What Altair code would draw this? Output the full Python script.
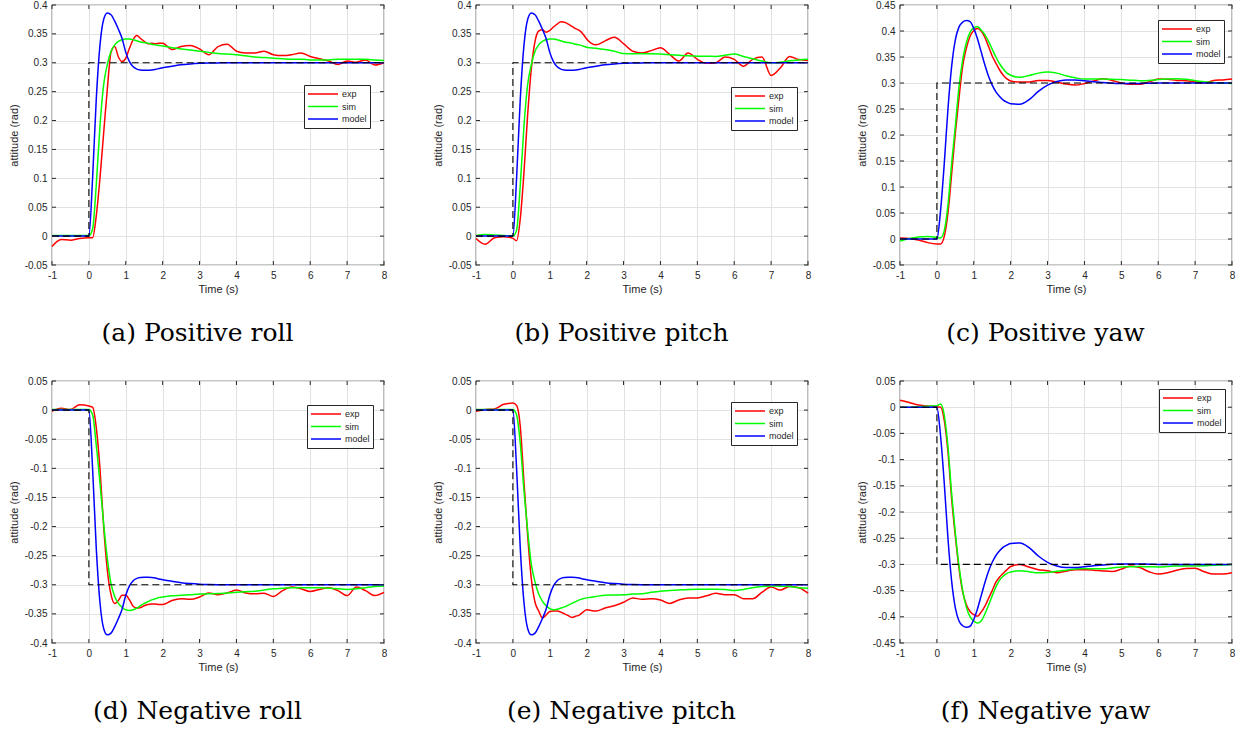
import altair as alt
import pandas as pd

# ---------------- data ----------------
T = [-1, -0.75, -0.5, -0.25, 0,
     0.1, 0.2, 0.3, 0.4, 0.5, 0.6, 0.7, 0.8, 0.9, 1.0,
     1.1, 1.2, 1.3, 1.4, 1.5, 1.6, 1.7, 1.8, 1.9, 2.0,
     2.25, 2.5, 2.75, 3.0, 3.25, 3.5, 3.75, 4.0, 4.25, 4.5, 4.75, 5.0,
     5.25, 5.5, 5.75, 6.0, 6.25, 6.5, 6.75, 7.0, 7.25, 7.5, 7.75, 8.0]

# (a) positive roll
exp_a = [-0.018, -0.006, -0.007, -0.004, -0.003,
         -0.003, 0.035, 0.1, 0.178, 0.255, 0.318, 0.328, 0.31, 0.302, 0.308,
         0.325, 0.34, 0.347, 0.342, 0.337, 0.333, 0.334, 0.333, 0.334, 0.334,
         0.323, 0.328, 0.33, 0.324, 0.314, 0.328, 0.332, 0.32, 0.317, 0.317, 0.32, 0.314,
         0.3125, 0.314, 0.317, 0.311, 0.307, 0.303, 0.297, 0.303, 0.301, 0.305, 0.296, 0.3]
sim_a = [0.001, 0.001, 0.001, 0.001, 0.001,
         0.012, 0.088, 0.19, 0.262, 0.297, 0.32, 0.331, 0.337, 0.34, 0.341,
         0.341, 0.34, 0.338, 0.336, 0.335, 0.334, 0.332, 0.331, 0.33, 0.329,
         0.326, 0.324, 0.322, 0.32, 0.318, 0.316, 0.315, 0.314, 0.312, 0.31, 0.309, 0.308,
         0.307, 0.306, 0.306, 0.305, 0.305, 0.305, 0.306, 0.306, 0.306, 0.306, 0.305, 0.304]
model_pos_rp = [0, 0, 0, 0, 0,
                0.1, 0.237, 0.33, 0.375, 0.386, 0.383, 0.372, 0.358, 0.342, 0.318,
                0.302, 0.293, 0.289, 0.2875, 0.287, 0.287, 0.2875, 0.2885, 0.29, 0.2915,
                0.294, 0.2965, 0.298, 0.299, 0.2995, 0.2998, 0.3, 0.3, 0.3, 0.3, 0.3, 0.3,
                0.3, 0.3, 0.3, 0.3, 0.3, 0.3, 0.3, 0.3, 0.3, 0.3, 0.3, 0.3]

# (b) positive pitch
exp_b = [-0.004, -0.014, -0.003, -0.001, -0.004,
         -0.008, 0.03, 0.11, 0.21, 0.29, 0.337, 0.355, 0.357, 0.353, 0.356,
         0.362, 0.367, 0.371, 0.37, 0.367, 0.363, 0.359, 0.356, 0.35, 0.341,
         0.331, 0.338, 0.344, 0.333, 0.32, 0.317, 0.321, 0.326, 0.3145, 0.303, 0.317, 0.306,
         0.299, 0.3, 0.31, 0.306, 0.294, 0.306, 0.31, 0.278, 0.291, 0.311, 0.3055, 0.304]
sim_b = [0.001, 0.003, 0.002, 0.001, 0.0,
         0.01, 0.088, 0.19, 0.262, 0.297, 0.32, 0.331, 0.337, 0.34, 0.341,
         0.341, 0.34, 0.338, 0.336, 0.335, 0.334, 0.332, 0.331, 0.329, 0.327,
         0.325, 0.323, 0.32, 0.316, 0.3155, 0.3155, 0.3155, 0.315, 0.314, 0.313, 0.312, 0.3115,
         0.3115, 0.311, 0.313, 0.315, 0.311, 0.307, 0.303, 0.3, 0.301, 0.3035, 0.305, 0.306]

# (c) positive yaw
exp_c = [0.002, 0.001, -0.002, -0.007, -0.0095,
         -0.0095, 0.005, 0.05, 0.125, 0.204, 0.272, 0.333, 0.367, 0.39, 0.401,
         0.405, 0.4, 0.388, 0.37, 0.352, 0.338, 0.325, 0.315, 0.308, 0.304,
         0.302, 0.302, 0.305, 0.305, 0.302, 0.298, 0.296, 0.299, 0.304, 0.308, 0.305, 0.3,
         0.2975, 0.2975, 0.302, 0.3075, 0.307, 0.305, 0.3045, 0.3025, 0.3, 0.305, 0.306, 0.3075]
sim_c = [-0.004, 0.001, 0.004, 0.005, 0.003,
         0.002, 0.016, 0.065, 0.145, 0.217, 0.293, 0.345, 0.378, 0.398, 0.406,
         0.408, 0.402, 0.393, 0.38, 0.365, 0.35, 0.337, 0.327, 0.319, 0.315,
         0.311, 0.3145, 0.319, 0.321, 0.319, 0.314, 0.31, 0.3075, 0.3075, 0.3075, 0.307, 0.3065,
         0.3055, 0.3045, 0.305, 0.3065, 0.3075, 0.308, 0.307, 0.3045, 0.3025, 0.301, 0.3, 0.299]
model_pos_yaw = [0, 0, 0, 0, 0,
                 0.055, 0.145, 0.25, 0.332, 0.383, 0.408, 0.417, 0.42, 0.418, 0.405,
                 0.385, 0.36, 0.335, 0.313, 0.296, 0.283, 0.274, 0.267, 0.263, 0.26,
                 0.259, 0.268, 0.284, 0.296, 0.303, 0.306, 0.306, 0.3045, 0.3025, 0.301, 0.2995, 0.299,
                 0.299, 0.299, 0.2995, 0.3, 0.3, 0.3, 0.3, 0.3, 0.3, 0.3, 0.3, 0.3]

# (d) negative roll
exp_d = [-0.002, 0.003, 0.001, 0.009, 0.007,
         0.005, -0.03, -0.1, -0.2, -0.275, -0.317, -0.332, -0.327, -0.318, -0.318,
         -0.326, -0.337, -0.34, -0.339, -0.336, -0.334, -0.333, -0.333, -0.334, -0.334,
         -0.327, -0.324, -0.325, -0.321, -0.314, -0.317, -0.314, -0.309, -0.314, -0.3155, -0.3145, -0.32,
         -0.31, -0.304, -0.307, -0.3115, -0.308, -0.305, -0.31, -0.3185, -0.304, -0.31, -0.3185, -0.313]
sim_d = [0.001, 0.001, 0.001, 0.001, 0.001,
         -0.008, -0.06, -0.125, -0.195, -0.255, -0.298, -0.32, -0.332, -0.339, -0.343,
         -0.344, -0.343, -0.34, -0.336, -0.332, -0.329, -0.326, -0.324, -0.322, -0.321,
         -0.319, -0.318, -0.317, -0.316, -0.3155, -0.315, -0.314, -0.313, -0.312, -0.311, -0.309, -0.307,
         -0.306, -0.305, -0.305, -0.305, -0.305, -0.306, -0.307, -0.308, -0.307, -0.305, -0.303, -0.302]
model_neg_rp = [0, 0, 0, 0, 0,
                -0.1, -0.237, -0.33, -0.375, -0.386, -0.383, -0.372, -0.358, -0.342, -0.318,
                -0.302, -0.293, -0.289, -0.2875, -0.287, -0.287, -0.2875, -0.2885, -0.29, -0.2915,
                -0.294, -0.2965, -0.298, -0.299, -0.2995, -0.2998, -0.3, -0.3, -0.3, -0.3, -0.3, -0.3,
                -0.3, -0.3, -0.3, -0.3, -0.3, -0.3, -0.3, -0.3, -0.3, -0.3, -0.3, -0.3]

# (e) negative pitch
exp_e = [-0.002, 0.001, 0.002, 0.01, 0.012,
         0.008, -0.028, -0.123, -0.215, -0.29, -0.33, -0.345, -0.357, -0.352, -0.346,
         -0.345, -0.345, -0.347, -0.35, -0.353, -0.356, -0.354, -0.352, -0.347, -0.343,
         -0.345, -0.34, -0.336, -0.33, -0.3225, -0.325, -0.324, -0.326, -0.332, -0.326, -0.3225, -0.3225,
         -0.319, -0.3145, -0.317, -0.317, -0.324, -0.324, -0.313, -0.304, -0.309, -0.303, -0.305, -0.3145]
sim_e = [0.001, 0.001, 0.001, 0.001, 0.001,
         -0.008, -0.057, -0.138, -0.207, -0.265, -0.295, -0.316, -0.328, -0.336, -0.341,
         -0.343, -0.342, -0.34, -0.338, -0.335, -0.332, -0.329, -0.326, -0.324, -0.3225,
         -0.32, -0.318, -0.3175, -0.317, -0.316, -0.3155, -0.313, -0.311, -0.31, -0.309, -0.308, -0.3075,
         -0.3075, -0.3075, -0.308, -0.31, -0.308, -0.305, -0.303, -0.302, -0.3025, -0.303, -0.305, -0.306]

# (f) negative yaw
exp_f = [0.0134, 0.009, 0.004, 0.0025, 0.0005,
         0.0, -0.025, -0.085, -0.175, -0.246, -0.308, -0.353, -0.377, -0.39, -0.396,
         -0.399, -0.391, -0.38, -0.365, -0.35, -0.334, -0.324, -0.317, -0.31, -0.304,
         -0.3, -0.305, -0.31, -0.312, -0.316, -0.313, -0.31, -0.31, -0.311, -0.3125, -0.3135, -0.309,
         -0.303, -0.306, -0.314, -0.3185, -0.316, -0.311, -0.308, -0.3075, -0.314, -0.3185, -0.3185, -0.316]
sim_f = [0.0, 0.0, 0.001, 0.002, 0.003,
         0.006, -0.015, -0.075, -0.165, -0.24, -0.303, -0.35, -0.382, -0.4, -0.408,
         -0.412, -0.408, -0.395, -0.378, -0.36, -0.343, -0.33, -0.322, -0.317, -0.3145,
         -0.312, -0.314, -0.316, -0.3155, -0.313, -0.311, -0.309, -0.308, -0.3085, -0.3085, -0.307, -0.305,
         -0.3045, -0.304, -0.3045, -0.305, -0.304, -0.303, -0.303, -0.303, -0.3025, -0.3015, -0.301, -0.3]
model_neg_yaw = [0, 0, 0, 0, 0,
                 -0.055, -0.145, -0.25, -0.332, -0.383, -0.408, -0.417, -0.42, -0.418, -0.405,
                 -0.385, -0.36, -0.335, -0.313, -0.296, -0.283, -0.274, -0.267, -0.263, -0.26,
                 -0.259, -0.268, -0.284, -0.296, -0.303, -0.306, -0.306, -0.3045, -0.3025, -0.301, -0.2995, -0.299,
                 -0.299, -0.299, -0.2995, -0.3, -0.3, -0.3, -0.3, -0.3, -0.3, -0.3, -0.3, -0.3]

# reference step (dashed)
ref_t = [-1, 0, 0, 8]
ref_pos = [0, 0, 0.3, 0.3]
ref_neg = [0, 0, -0.3, -0.3]

x_ticks = [-1, 0, 1, 2, 3, 4, 5, 6, 7, 8]
y_ticks_pos = [-0.05, 0, 0.05, 0.1, 0.15, 0.2, 0.25, 0.3, 0.35, 0.4]
y_ticks_pos_yaw = y_ticks_pos + [0.45]
y_ticks_neg = [-0.4, -0.35, -0.3, -0.25, -0.2, -0.15, -0.1, -0.05, 0, 0.05]
y_ticks_neg_yaw = [-0.45] + y_ticks_neg

series_names = ["exp", "sim", "model"]
series_colors = ["#ff0000", "#00ff00", "#0000ff"]

captions = ["(a) Positive roll", "(b) Positive pitch", "(c) Positive yaw",
            "(d) Negative roll", "(e) Negative pitch", "(f) Negative yaw"]

panels = [
    dict(cap=captions[0], s=(exp_a, sim_a, model_pos_rp), ref=ref_pos, yt=y_ticks_pos, lx=252, ly=80),
    dict(cap=captions[1], s=(exp_b, sim_b, model_pos_rp), ref=ref_pos, yt=y_ticks_pos, lx=255, ly=82),
    dict(cap=captions[2], s=(exp_c, sim_c, model_pos_yaw), ref=ref_pos, yt=y_ticks_pos_yaw, lx=258, ly=15),
    dict(cap=captions[3], s=(exp_d, sim_d, model_neg_rp), ref=ref_neg, yt=y_ticks_neg, lx=255, ly=24),
    dict(cap=captions[4], s=(exp_e, sim_e, model_neg_rp), ref=ref_neg, yt=y_ticks_neg, lx=255, ly=21),
    dict(cap=captions[5], s=(exp_f, sim_f, model_neg_yaw), ref=ref_neg, yt=y_ticks_neg_yaw, lx=259, ly=8),
]

W = 332
H_TOP, H_BOTTOM = 260, 262
TICK = 4
AX = "#262626"

x_label = "(datum.value < 0 ? '-' : '') + format(abs(datum.value), 'd')"
y_label = "(datum.value < -1e-9 ? '-' : '') + format(abs(datum.value), '.2~f')"


def make_panel(p, H):
    yt = p["yt"]
    ydom = [yt[0], yt[-1]]
    rows = []
    for name, arr in zip(series_names, p["s"]):
        assert len(arr) == len(T)
        for t, v in zip(T, arr):
            rows.append({"t": t, "v": v, "series": name})
    df = pd.DataFrame(rows)
    df_ref = pd.DataFrame({"t": ref_t, "v": p["ref"], "i": list(range(len(ref_t)))})
    df_xt = pd.DataFrame({"t": x_ticks})
    df_yt = pd.DataFrame({"v": yt})

    def X():
        return alt.X("t:Q", title="Time (s)",
                     scale=alt.Scale(domain=[-1, 8], nice=False, zero=False),
                     axis=alt.Axis(values=x_ticks, labelExpr=x_label, labelFlush=False,
                                   ticks=False, domain=False, labelPadding=5, titlePadding=3))

    def Y():
        return alt.Y("v:Q", title="attitude (rad)",
                     scale=alt.Scale(domain=ydom, nice=False, zero=False),
                     axis=alt.Axis(values=yt, labelExpr=y_label, ticks=False, domain=False,
                                   labelPadding=5, titlePadding=5, minExtent=28, maxExtent=28))

    lines = alt.Chart(df).mark_line(strokeWidth=1.5, interpolate="monotone").encode(
        x=X(), y=Y(),
        color=alt.Color("series:N",
                        scale=alt.Scale(domain=series_names, range=series_colors),
                        sort=series_names,
                        legend=alt.Legend(title=None, orient="none", legendX=p["lx"], legendY=p["ly"],
                                          symbolType="stroke", symbolSize=900, symbolStrokeWidth=1.6,
                                          labelFontSize=9, labelFont="Liberation Sans", labelColor="#262626",
                                          labelOffset=3, strokeColor="#262626", fillColor="white",
                                          padding=3, clipHeight=12, rowPadding=0.5)),
        order=alt.Order("t:Q"),
    )
    ref = alt.Chart(df_ref).mark_line(color="black", strokeWidth=1.1, strokeDash=[7, 4]).encode(
        x=X(), y=Y(), order=alt.Order("i:Q"))
    tb = alt.Chart(df_xt).mark_rule(color=AX, strokeWidth=1).encode(
        x=X(), y=alt.value(H), y2=alt.value(H - TICK))
    tt = alt.Chart(df_xt).mark_rule(color=AX, strokeWidth=1).encode(
        x=X(), y=alt.value(0), y2=alt.value(TICK))
    tl = alt.Chart(df_yt).mark_rule(color=AX, strokeWidth=1).encode(
        y=Y(), x=alt.value(0), x2=alt.value(TICK))
    tr = alt.Chart(df_yt).mark_rule(color=AX, strokeWidth=1).encode(
        y=Y(), x=alt.value(W), x2=alt.value(W - TICK))
    return alt.layer(lines, ref, tb, tt, tl, tr).properties(
        width=W, height=H,
        title=alt.TitleParams(text=p["cap"], orient="bottom", anchor="middle", frame="bounds",
                              font="DejaVu Serif", fontSize=25, fontWeight="normal",
                              color="black", offset=27),
    )


row1 = alt.hconcat(*[make_panel(p, H_TOP) for p in panels[:3]], spacing=43).resolve_scale(
    color="independent").resolve_legend(color="independent")
row2 = alt.hconcat(*[make_panel(p, H_BOTTOM) for p in panels[3:]], spacing=43).resolve_scale(
    color="independent").resolve_legend(color="independent")

chart = alt.vconcat(row1, row2, spacing=28).resolve_scale(
    color="independent").resolve_legend(color="independent").properties(
    padding={"left": 7, "top": -1, "right": 0, "bottom": 0},
    background="white",
).configure_view(
    stroke=AX, strokeWidth=1.2
).configure_axis(
    gridColor="#e2e2e2", gridWidth=1,
    labelFont="Liberation Sans", labelFontSize=10, labelColor=AX,
    titleFont="Liberation Sans", titleFontSize=11, titleColor=AX, titleFontWeight="normal",
)

chart.save("out.html", embed_options={"renderer": "svg", "actions": False})
